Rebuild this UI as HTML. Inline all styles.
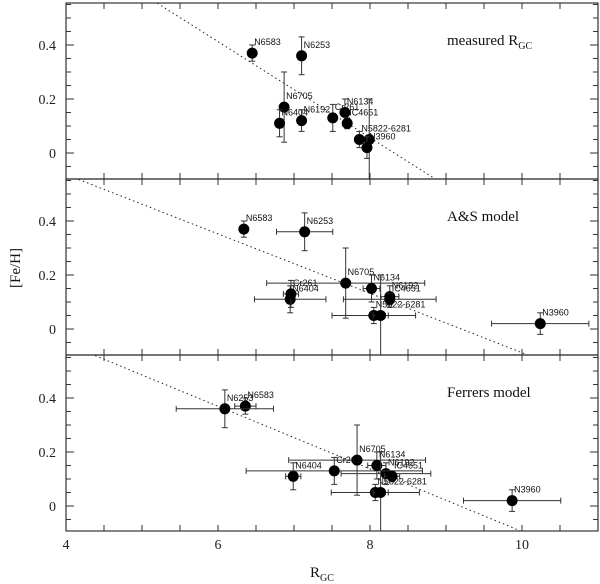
<!DOCTYPE html>
<html><head><meta charset="utf-8"><style>
html,body{margin:0;padding:0;background:#fff;}
svg{display:block;}
</style></head><body>
<svg id="chart" width="600" height="584" xmlns="http://www.w3.org/2000/svg" font-family="'Liberation Serif', serif"></svg>
<script>
const names = ["N6583","N6253","N6705","N6404","N6192","Cr261","N6134","IC4651","N5822","N6281","N3960"];
const labels = ["N6583","N6253","N6705","N6404","N6192","Cr261","N6134","IC4651","N5822-6281","","N3960"];
const feh = [0.37,0.36,0.17,0.11,0.12,0.13,0.15,0.11,0.05,0.05,0.02];
const fehErr = [0.03,0.07,0.13,0.05,0.04,0.05,0.05,0.02,0.03,0.15,0.04];
const rMeasured = [6.45,7.10,6.87,6.81,7.10,7.51,7.67,7.70,7.86,7.99,7.96];
const rMeasuredErr = [0,0,0,0,0,0,0,0,0,0,0];
const rAS = [6.34,7.14,7.68,6.95,8.26,6.96,8.02,8.26,8.05,8.14,10.24];
const rASErr = [0,0.37,1.04,0.47,0.12,0.1,0.11,0.61,0.55,0.1,0.64];
const rFerrers = [6.36,6.09,7.83,6.99,8.21,7.53,8.09,8.29,8.07,8.14,9.87];
const rFerrersErr = [0.14,0.64,0.9,0.1,0.59,1.16,0.12,0.1,0.58,0.1,0.64];
const fitIntercept = [0.456,0.379,0.504];
const fitPivot = [5.756,5.756,4.84];
const fitSlope = [-0.178,-0.110,-0.116];
const panelTitles = ["measured","A&S model","Ferrers model"];
const xTicks = [4,6,8,10];
const yTicks = [0,0.2,0.4];

const svg = document.getElementById('chart');
const NS = "http://www.w3.org/2000/svg";
const X0=66, X1=598, XMIN=4, XMAX=11;
const panelTop=[3,179,355], panelH=176, zeroY=[153,329,506], PPU=270;
function xs(v){return X0+(v-XMIN)*(X1-X0)/(XMAX-XMIN);}
function ys(p,v){return zeroY[p]-v*PPU;}
function el(tag,attrs,parent){const e=document.createElementNS(NS,tag);for(const k in attrs)e.setAttribute(k,attrs[k]);(parent||svg).appendChild(e);return e;}

const rSets=[rMeasured,rAS,rFerrers], rErrs=[rMeasuredErr,rASErr,rFerrersErr];
for(let p=0;p<3;p++){
  const g=el('g',{});
  
  
  const top=panelTop[p], bot=top+panelH;
  const clipId='c'+p;
  const cp=el('clipPath',{id:clipId},g); el('rect',{x:X0,y:top,width:X1-X0,height:panelH},cp);
  for(let v=4;v<=11.001;v+=0.5){
    const x=xs(v);
    el('line',{x1:x,x2:x,y1:top,y2:top+6,stroke:'#333','stroke-width':1},g);
    el('line',{x1:x,x2:x,y1:bot,y2:bot-6,stroke:'#333','stroke-width':1},g);
  }
  for(let i=-2;i<=11;i++){
    const v=i*0.05, y=ys(p,v);
    if(y<top+1||y>bot-1)continue;
    const major=(i%4===0);
    el('line',{x1:X0,x2:X0+(major?8:5),y1:y,y2:y,stroke:'#333','stroke-width':1},g);
    el('line',{x1:X1,x2:X1-(major?8:5),y1:y,y2:y,stroke:'#333','stroke-width':1},g);
  }
  yTicks.forEach(v=>{
    const t=el('text',{x:X0-10,y:ys(p,v)+5,'text-anchor':'end','font-size':14,fill:'#222'},g);
    t.textContent=v===0?'0':v.toFixed(1);
    
    
  });
  const fl=el('line',{x1:xs(XMIN),y1:ys(p,fitIntercept[p]+fitSlope[p]*(XMIN-fitPivot[p])),x2:xs(XMAX),y2:ys(p,fitIntercept[p]+fitSlope[p]*(XMAX-fitPivot[p])),stroke:'#222','stroke-width':1,'stroke-dasharray':'1.5,3','clip-path':'url(#'+clipId+')'},g);
  
  
  const rs=rSets[p], re=rErrs[p];
  for(let i=0;i<names.length;i++){
    const pg=el('g',{'clip-path':'url(#'+clipId+')'},g);
    
    
    const cx=xs(rs[i]), cy=ys(p,feh[i]);
    const y1=ys(p,feh[i]+fehErr[i]), y2=ys(p,feh[i]-fehErr[i]);
    el('line',{x1:cx,x2:cx,y1:y1,y2:y2,stroke:'#333','stroke-width':1},pg);
    el('line',{x1:cx-3,x2:cx+3,y1:y1,y2:y1,stroke:'#333'},pg);
    el('line',{x1:cx-3,x2:cx+3,y1:y2,y2:y2,stroke:'#333'},pg);
    if(re[i]>0){
      const xa=xs(rs[i]-re[i]), xb=xs(rs[i]+re[i]);
      el('line',{x1:xa,x2:xb,y1:cy,y2:cy,stroke:'#333'},pg);
      el('line',{x1:xa,x2:xa,y1:cy-3,y2:cy+3,stroke:'#333'},pg);
      el('line',{x1:xb,x2:xb,y1:cy-3,y2:cy+3,stroke:'#333'},pg);
    }
    el('circle',{cx:cx,cy:cy,r:5.5,fill:'#000'},pg);
    if(labels[i]){
      const t=el('text',{x:cx+2,y:cy-8,'font-size':9,'font-family':"'Liberation Sans', sans-serif",fill:'#111'},pg);
      t.textContent=labels[i];
    }
  }
  el('rect',{x:X0,y:top,width:X1-X0,height:panelH,fill:'none',stroke:'#333','stroke-width':1.2},g);
  const tt=el('text',{x:447,y:top+42,'font-size':15,fill:'#111'},g);
  
  
  if(p===0){
    tt.textContent='measured R';
    const s=el('tspan',{'font-size':10,dy:4},tt); s.textContent='GC';
  } else tt.textContent=panelTitles[p];
}
xTicks.forEach(v=>{
  const t=el('text',{x:xs(v),y:549,'text-anchor':'middle','font-size':14,fill:'#222'});
  t.textContent=String(v);
  
  
});
const xl=el('text',{x:310,y:577,'font-size':15,fill:'#111'});


xl.textContent='R';
const xs2=el('tspan',{'font-size':10,dy:4},xl); xs2.textContent='GC';
const yl=el('text',{x:0,y:0,'font-size':15,fill:'#111','text-anchor':'middle',transform:'translate(20,268) rotate(-90)'});


yl.textContent='[Fe/H]';
</script>
</body></html>
